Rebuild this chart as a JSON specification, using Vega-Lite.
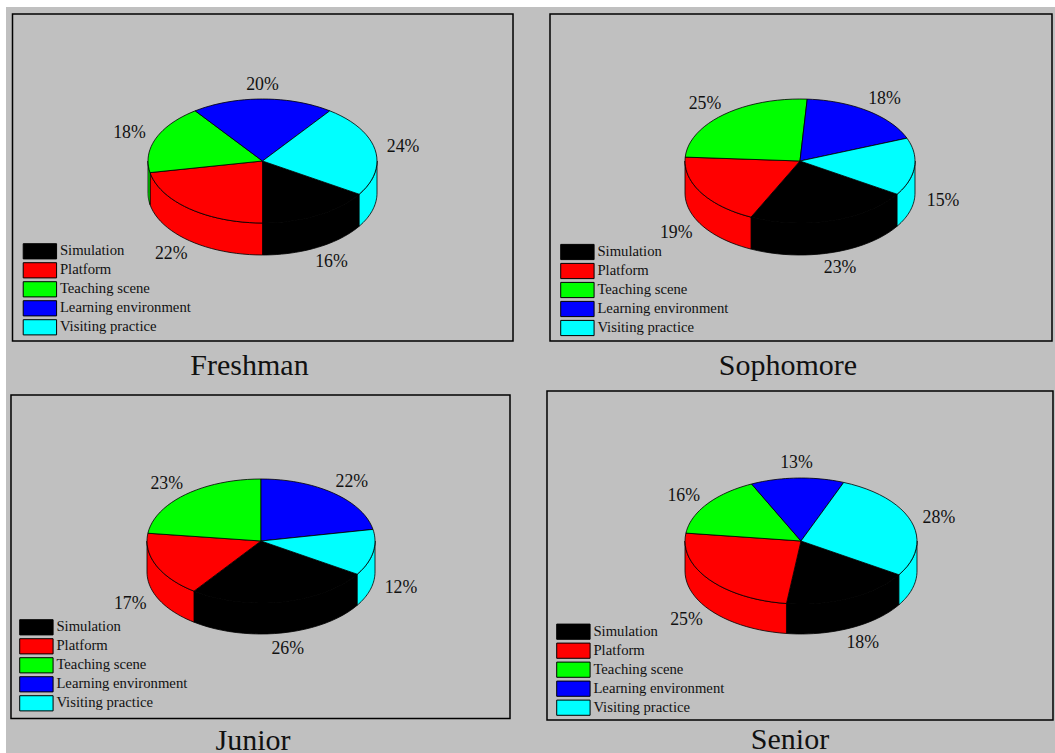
{
"$schema":"https://vega.github.io/schema/vega-lite/v6.json",
"padding":{"left":6,"top":7,"right":0,"bottom":0},
"background":"#ffffff",
"columns":2,
"spacing":0,
"data":{"values":[
{"panel":"Freshman","order":1,"slice":"Simulation","share":16},
{"panel":"Freshman","order":2,"slice":"Platform","share":22},
{"panel":"Freshman","order":3,"slice":"Teaching scene","share":18},
{"panel":"Freshman","order":4,"slice":"Learning environment","share":20},
{"panel":"Freshman","order":5,"slice":"Visiting practice","share":24},
{"panel":"Sophomore","order":1,"slice":"Simulation","share":23},
{"panel":"Sophomore","order":2,"slice":"Platform","share":19},
{"panel":"Sophomore","order":3,"slice":"Teaching scene","share":25},
{"panel":"Sophomore","order":4,"slice":"Learning environment","share":18},
{"panel":"Sophomore","order":5,"slice":"Visiting practice","share":15},
{"panel":"Junior","order":1,"slice":"Simulation","share":26},
{"panel":"Junior","order":2,"slice":"Platform","share":17},
{"panel":"Junior","order":3,"slice":"Teaching scene","share":23},
{"panel":"Junior","order":4,"slice":"Learning environment","share":22},
{"panel":"Junior","order":5,"slice":"Visiting practice","share":12},
{"panel":"Senior","order":1,"slice":"Simulation","share":18},
{"panel":"Senior","order":2,"slice":"Platform","share":25},
{"panel":"Senior","order":3,"slice":"Teaching scene","share":16},
{"panel":"Senior","order":4,"slice":"Learning environment","share":13},
{"panel":"Senior","order":5,"slice":"Visiting practice","share":28}
]},
"transform":[
{"window":[{"op":"sum","field":"share","as":"cum"}],"groupby":["panel"],"sort":[{"field":"order"}]},
{"calculate":"122.4+3.6*(datum.cum-datum.share)","as":"start"},
{"calculate":"122.4+3.6*datum.cum","as":"end"}
],
"resolve":{"scale":{"color":"independent"},"legend":{"color":"independent"}},
"concat":[
{"width":524,"height":381,"transform":[{"filter":"datum.panel==='Freshman'"}],"layer":[
{"data":{"values":[{"panel":"Freshman"}]},"mark":{"type":"rect","fill":"#c0c0c0","stroke":"#000000","strokeWidth":1.5},
"encoding":{"x":{"datum":-2.1834,"type":"quantitative","scale":{"domain":[-2.2402,2.3362],"nice":false,"zero":false}},"x2":{"datum":2.1878},"y":{"datum":-2.371,"type":"quantitative","scale":{"domain":[3.6613,-2.4839],"nice":false,"zero":false}},"y2":{"datum":2.9032}}},
{"mark":{"type":"area","orient":"vertical","stroke":"#000000","strokeWidth":0.8},
"transform":[{"calculate":"[0,1,2,3,4,5,6,7,8,9,10,11,12,13,14,15,16,17,18,19,20,21,22,23,24]","as":"k"},{"flatten":["k"]},{"filter":"datum.start<270||datum.end>450"},{"calculate":"datum.start<270?datum.start:max(datum.start,450)","as":"lo"},{"calculate":"datum.start<270?min(datum.end,270):datum.end","as":"hi"},{"calculate":"(datum.lo+(datum.hi-datum.lo)*datum.k/24)*PI/180","as":"ang"},{"calculate":"sin(datum.ang)","as":"sx"},{"calculate":"-cos(datum.ang)","as":"sy"},{"calculate":"datum.sy+0.516","as":"sy2"}],
"encoding":{"x":{"field":"sx","type":"quantitative"},"y":{"field":"sy","type":"quantitative"},"y2":{"field":"sy2"},"color":{"field":"slice","type":"nominal","scale":{"domain":["Simulation","Platform","Teaching scene","Learning environment","Visiting practice"],"range":["#000000","#ff0000","#00ff00","#0000ff","#00ffff"]},"legend":{"title":null,"orient":"none","legendX":24.9,"legendY":235.3}}}},
{"mark":{"type":"line","filled":true,"stroke":"#000000","strokeWidth":0.8},
"transform":[{"calculate":"[0,1,2,3,4,5,6,7,8,9,10,11,12,13,14,15,16,17,18,19,20,21,22,23,24,25,26]","as":"k"},{"flatten":["k"]},{"calculate":"(datum.start+(datum.end-datum.start)*(datum.k-1)/24)*PI/180","as":"ang"},{"calculate":"datum.k==0||datum.k==26?0:sin(datum.ang)","as":"tx"},{"calculate":"datum.k==0||datum.k==26?0:-cos(datum.ang)","as":"ty"}],
"encoding":{"x":{"field":"tx","type":"quantitative"},"y":{"field":"ty","type":"quantitative"},"order":{"field":"k","type":"quantitative"},"color":{"field":"slice","type":"nominal","scale":{"domain":["Simulation","Platform","Teaching scene","Learning environment","Visiting practice"],"range":["#000000","#ff0000","#00ff00","#0000ff","#00ffff"]},"legend":{"title":null,"orient":"none","legendX":24.9,"legendY":235.3}}}},
{"mark":{"type":"text","font":"Liberation Serif","fontSize":17.8,"color":"#111111","align":"center","baseline":"middle","dy":1},
"transform":[{"calculate":"(datum.start+datum.end)/2*PI/180","as":"mid"},{"calculate":"1.25*sin(datum.mid)","as":"lx"},{"calculate":"-1.25*cos(datum.mid)+(cos(datum.mid)<0?0.516:0)","as":"ly"},{"calculate":"datum.share+'%'","as":"label"}],
"encoding":{"x":{"field":"lx","type":"quantitative"},"y":{"field":"ly","type":"quantitative"},"text":{"field":"label","type":"nominal"}}},
{"data":{"values":[{"panel":"Freshman"}]},"mark":{"type":"text","font":"Liberation Serif","fontSize":30,"color":"#111111","align":"center","baseline":"alphabetic"},
"encoding":{"x":{"datum":-0.1135,"type":"quantitative"},"y":{"datum":3.4516,"type":"quantitative"},"text":{"field":"panel","type":"nominal"}}}
]},
{"width":525,"height":381,"transform":[{"filter":"datum.panel==='Sophomore'"}],"layer":[
{"data":{"values":[{"panel":"Sophomore"}]},"mark":{"type":"rect","fill":"#c0c0c0","stroke":"#000000","strokeWidth":1.5},
"encoding":{"x":{"datum":-2.1739,"type":"quantitative","scale":{"domain":[-2.3478,2.2174],"nice":false,"zero":false}},"x2":{"datum":2.1913},"y":{"datum":-2.371,"type":"quantitative","scale":{"domain":[3.6613,-2.4839],"nice":false,"zero":false}},"y2":{"datum":2.9032}}},
{"mark":{"type":"area","orient":"vertical","stroke":"#000000","strokeWidth":0.8},
"transform":[{"calculate":"[0,1,2,3,4,5,6,7,8,9,10,11,12,13,14,15,16,17,18,19,20,21,22,23,24]","as":"k"},{"flatten":["k"]},{"filter":"datum.start<270||datum.end>450"},{"calculate":"datum.start<270?datum.start:max(datum.start,450)","as":"lo"},{"calculate":"datum.start<270?min(datum.end,270):datum.end","as":"hi"},{"calculate":"(datum.lo+(datum.hi-datum.lo)*datum.k/24)*PI/180","as":"ang"},{"calculate":"sin(datum.ang)","as":"sx"},{"calculate":"-cos(datum.ang)","as":"sy"},{"calculate":"datum.sy+0.516","as":"sy2"}],
"encoding":{"x":{"field":"sx","type":"quantitative"},"y":{"field":"sy","type":"quantitative"},"y2":{"field":"sy2"},"color":{"field":"slice","type":"nominal","scale":{"domain":["Simulation","Platform","Teaching scene","Learning environment","Visiting practice"],"range":["#000000","#ff0000","#00ff00","#0000ff","#00ffff"]},"legend":{"title":null,"orient":"none","legendX":38.4,"legendY":236}}}},
{"mark":{"type":"line","filled":true,"stroke":"#000000","strokeWidth":0.8},
"transform":[{"calculate":"[0,1,2,3,4,5,6,7,8,9,10,11,12,13,14,15,16,17,18,19,20,21,22,23,24,25,26]","as":"k"},{"flatten":["k"]},{"calculate":"(datum.start+(datum.end-datum.start)*(datum.k-1)/24)*PI/180","as":"ang"},{"calculate":"datum.k==0||datum.k==26?0:sin(datum.ang)","as":"tx"},{"calculate":"datum.k==0||datum.k==26?0:-cos(datum.ang)","as":"ty"}],
"encoding":{"x":{"field":"tx","type":"quantitative"},"y":{"field":"ty","type":"quantitative"},"order":{"field":"k","type":"quantitative"},"color":{"field":"slice","type":"nominal","scale":{"domain":["Simulation","Platform","Teaching scene","Learning environment","Visiting practice"],"range":["#000000","#ff0000","#00ff00","#0000ff","#00ffff"]},"legend":{"title":null,"orient":"none","legendX":38.4,"legendY":236}}}},
{"mark":{"type":"text","font":"Liberation Serif","fontSize":17.8,"color":"#111111","align":"center","baseline":"middle","dy":1},
"transform":[{"calculate":"(datum.start+datum.end)/2*PI/180","as":"mid"},{"calculate":"1.25*sin(datum.mid)","as":"lx"},{"calculate":"-1.25*cos(datum.mid)+(cos(datum.mid)<0?0.516:0)","as":"ly"},{"calculate":"datum.share+'%'","as":"label"}],
"encoding":{"x":{"field":"lx","type":"quantitative"},"y":{"field":"ly","type":"quantitative"},"text":{"field":"label","type":"nominal"}}},
{"data":{"values":[{"panel":"Sophomore"}]},"mark":{"type":"text","font":"Liberation Serif","fontSize":30,"color":"#111111","align":"center","baseline":"alphabetic"},
"encoding":{"x":{"datum":-0.1043,"type":"quantitative"},"y":{"datum":3.4516,"type":"quantitative"},"text":{"field":"panel","type":"nominal"}}}
]},
{"width":524,"height":365,"transform":[{"filter":"datum.panel==='Junior'"}],"layer":[
{"data":{"values":[{"panel":"Junior"}]},"mark":{"type":"rect","fill":"#c0c0c0","stroke":"#000000","strokeWidth":1.5},
"encoding":{"x":{"datum":-2.193,"type":"quantitative","scale":{"domain":[-2.2368,2.3596],"nice":false,"zero":false}},"x2":{"datum":2.1842},"y":{"datum":-2.3548,"type":"quantitative","scale":{"domain":[3.4194,-2.4677],"nice":false,"zero":false}},"y2":{"datum":2.8629}}},
{"mark":{"type":"area","orient":"vertical","stroke":"#000000","strokeWidth":0.8},
"transform":[{"calculate":"[0,1,2,3,4,5,6,7,8,9,10,11,12,13,14,15,16,17,18,19,20,21,22,23,24]","as":"k"},{"flatten":["k"]},{"filter":"datum.start<270||datum.end>450"},{"calculate":"datum.start<270?datum.start:max(datum.start,450)","as":"lo"},{"calculate":"datum.start<270?min(datum.end,270):datum.end","as":"hi"},{"calculate":"(datum.lo+(datum.hi-datum.lo)*datum.k/24)*PI/180","as":"ang"},{"calculate":"sin(datum.ang)","as":"sx"},{"calculate":"-cos(datum.ang)","as":"sy"},{"calculate":"datum.sy+0.5","as":"sy2"}],
"encoding":{"x":{"field":"sx","type":"quantitative"},"y":{"field":"sy","type":"quantitative"},"y2":{"field":"sy2"},"color":{"field":"slice","type":"nominal","scale":{"domain":["Simulation","Platform","Teaching scene","Learning environment","Visiting practice"],"range":["#000000","#ff0000","#00ff00","#0000ff","#00ffff"]},"legend":{"title":null,"orient":"none","legendX":21.4,"legendY":230.3}}}},
{"mark":{"type":"line","filled":true,"stroke":"#000000","strokeWidth":0.8},
"transform":[{"calculate":"[0,1,2,3,4,5,6,7,8,9,10,11,12,13,14,15,16,17,18,19,20,21,22,23,24,25,26]","as":"k"},{"flatten":["k"]},{"calculate":"(datum.start+(datum.end-datum.start)*(datum.k-1)/24)*PI/180","as":"ang"},{"calculate":"datum.k==0||datum.k==26?0:sin(datum.ang)","as":"tx"},{"calculate":"datum.k==0||datum.k==26?0:-cos(datum.ang)","as":"ty"}],
"encoding":{"x":{"field":"tx","type":"quantitative"},"y":{"field":"ty","type":"quantitative"},"order":{"field":"k","type":"quantitative"},"color":{"field":"slice","type":"nominal","scale":{"domain":["Simulation","Platform","Teaching scene","Learning environment","Visiting practice"],"range":["#000000","#ff0000","#00ff00","#0000ff","#00ffff"]},"legend":{"title":null,"orient":"none","legendX":21.4,"legendY":230.3}}}},
{"mark":{"type":"text","font":"Liberation Serif","fontSize":17.8,"color":"#111111","align":"center","baseline":"middle","dy":1},
"transform":[{"calculate":"(datum.start+datum.end)/2*PI/180","as":"mid"},{"calculate":"1.25*sin(datum.mid)","as":"lx"},{"calculate":"-1.25*cos(datum.mid)+(cos(datum.mid)<0?0.5:0)","as":"ly"},{"calculate":"datum.share+'%'","as":"label"}],
"encoding":{"x":{"field":"lx","type":"quantitative"},"y":{"field":"ly","type":"quantitative"},"text":{"field":"label","type":"nominal"}}},
{"data":{"values":[{"panel":"Junior"}]},"mark":{"type":"text","font":"Liberation Serif","fontSize":30,"color":"#111111","align":"center","baseline":"alphabetic"},
"encoding":{"x":{"datum":-0.0702,"type":"quantitative"},"y":{"datum":3.371,"type":"quantitative"},"text":{"field":"panel","type":"nominal"}}}
]},
{"width":525,"height":365,"transform":[{"filter":"datum.panel==='Senior'"}],"layer":[
{"data":{"values":[{"panel":"Senior"}]},"mark":{"type":"rect","fill":"#c0c0c0","stroke":"#000000","strokeWidth":1.5},
"encoding":{"x":{"datum":-2.1897,"type":"quantitative","scale":{"domain":[-2.3362,2.1897],"nice":false,"zero":false}},"x2":{"datum":2.1724},"y":{"datum":-2.381,"type":"quantitative","scale":{"domain":[3.3651,-2.4286],"nice":false,"zero":false}},"y2":{"datum":2.8413}}},
{"mark":{"type":"area","orient":"vertical","stroke":"#000000","strokeWidth":0.8},
"transform":[{"calculate":"[0,1,2,3,4,5,6,7,8,9,10,11,12,13,14,15,16,17,18,19,20,21,22,23,24]","as":"k"},{"flatten":["k"]},{"filter":"datum.start<270||datum.end>450"},{"calculate":"datum.start<270?datum.start:max(datum.start,450)","as":"lo"},{"calculate":"datum.start<270?min(datum.end,270):datum.end","as":"hi"},{"calculate":"(datum.lo+(datum.hi-datum.lo)*datum.k/24)*PI/180","as":"ang"},{"calculate":"sin(datum.ang)","as":"sx"},{"calculate":"-cos(datum.ang)","as":"sy"},{"calculate":"datum.sy+0.476","as":"sy2"}],
"encoding":{"x":{"field":"sx","type":"quantitative"},"y":{"field":"sy","type":"quantitative"},"y2":{"field":"sy2"},"color":{"field":"slice","type":"nominal","scale":{"domain":["Simulation","Platform","Teaching scene","Learning environment","Visiting practice"],"range":["#000000","#ff0000","#00ff00","#0000ff","#00ffff"]},"legend":{"title":null,"orient":"none","legendX":34.4,"legendY":234.7}}}},
{"mark":{"type":"line","filled":true,"stroke":"#000000","strokeWidth":0.8},
"transform":[{"calculate":"[0,1,2,3,4,5,6,7,8,9,10,11,12,13,14,15,16,17,18,19,20,21,22,23,24,25,26]","as":"k"},{"flatten":["k"]},{"calculate":"(datum.start+(datum.end-datum.start)*(datum.k-1)/24)*PI/180","as":"ang"},{"calculate":"datum.k==0||datum.k==26?0:sin(datum.ang)","as":"tx"},{"calculate":"datum.k==0||datum.k==26?0:-cos(datum.ang)","as":"ty"}],
"encoding":{"x":{"field":"tx","type":"quantitative"},"y":{"field":"ty","type":"quantitative"},"order":{"field":"k","type":"quantitative"},"color":{"field":"slice","type":"nominal","scale":{"domain":["Simulation","Platform","Teaching scene","Learning environment","Visiting practice"],"range":["#000000","#ff0000","#00ff00","#0000ff","#00ffff"]},"legend":{"title":null,"orient":"none","legendX":34.4,"legendY":234.7}}}},
{"mark":{"type":"text","font":"Liberation Serif","fontSize":17.8,"color":"#111111","align":"center","baseline":"middle","dy":1},
"transform":[{"calculate":"(datum.start+datum.end)/2*PI/180","as":"mid"},{"calculate":"1.25*sin(datum.mid)","as":"lx"},{"calculate":"-1.25*cos(datum.mid)+(cos(datum.mid)<0?0.476:0)","as":"ly"},{"calculate":"datum.share+'%'","as":"label"}],
"encoding":{"x":{"field":"lx","type":"quantitative"},"y":{"field":"ly","type":"quantitative"},"text":{"field":"label","type":"nominal"}}},
{"data":{"values":[{"panel":"Senior"}]},"mark":{"type":"text","font":"Liberation Serif","fontSize":30,"color":"#111111","align":"center","baseline":"alphabetic"},
"encoding":{"x":{"datum":-0.0948,"type":"quantitative"},"y":{"datum":3.3016,"type":"quantitative"},"text":{"field":"panel","type":"nominal"}}}
]}
],
"config":{
"view":{"fill":"#c0c0c0","stroke":null},
"axis":{"disable":true},
"legend":{"symbolType":"M-2.012,-0.916H2.012V0.916H-2.012Z","symbolSize":275,"symbolStrokeColor":"#000000","symbolStrokeWidth":1,"labelFont":"Liberation Serif","labelFontSize":14.7,"labelColor":"#111111","labelOffset":11,"rowPadding":-5.2,"padding":0,"labelLimit":300}
}
}
